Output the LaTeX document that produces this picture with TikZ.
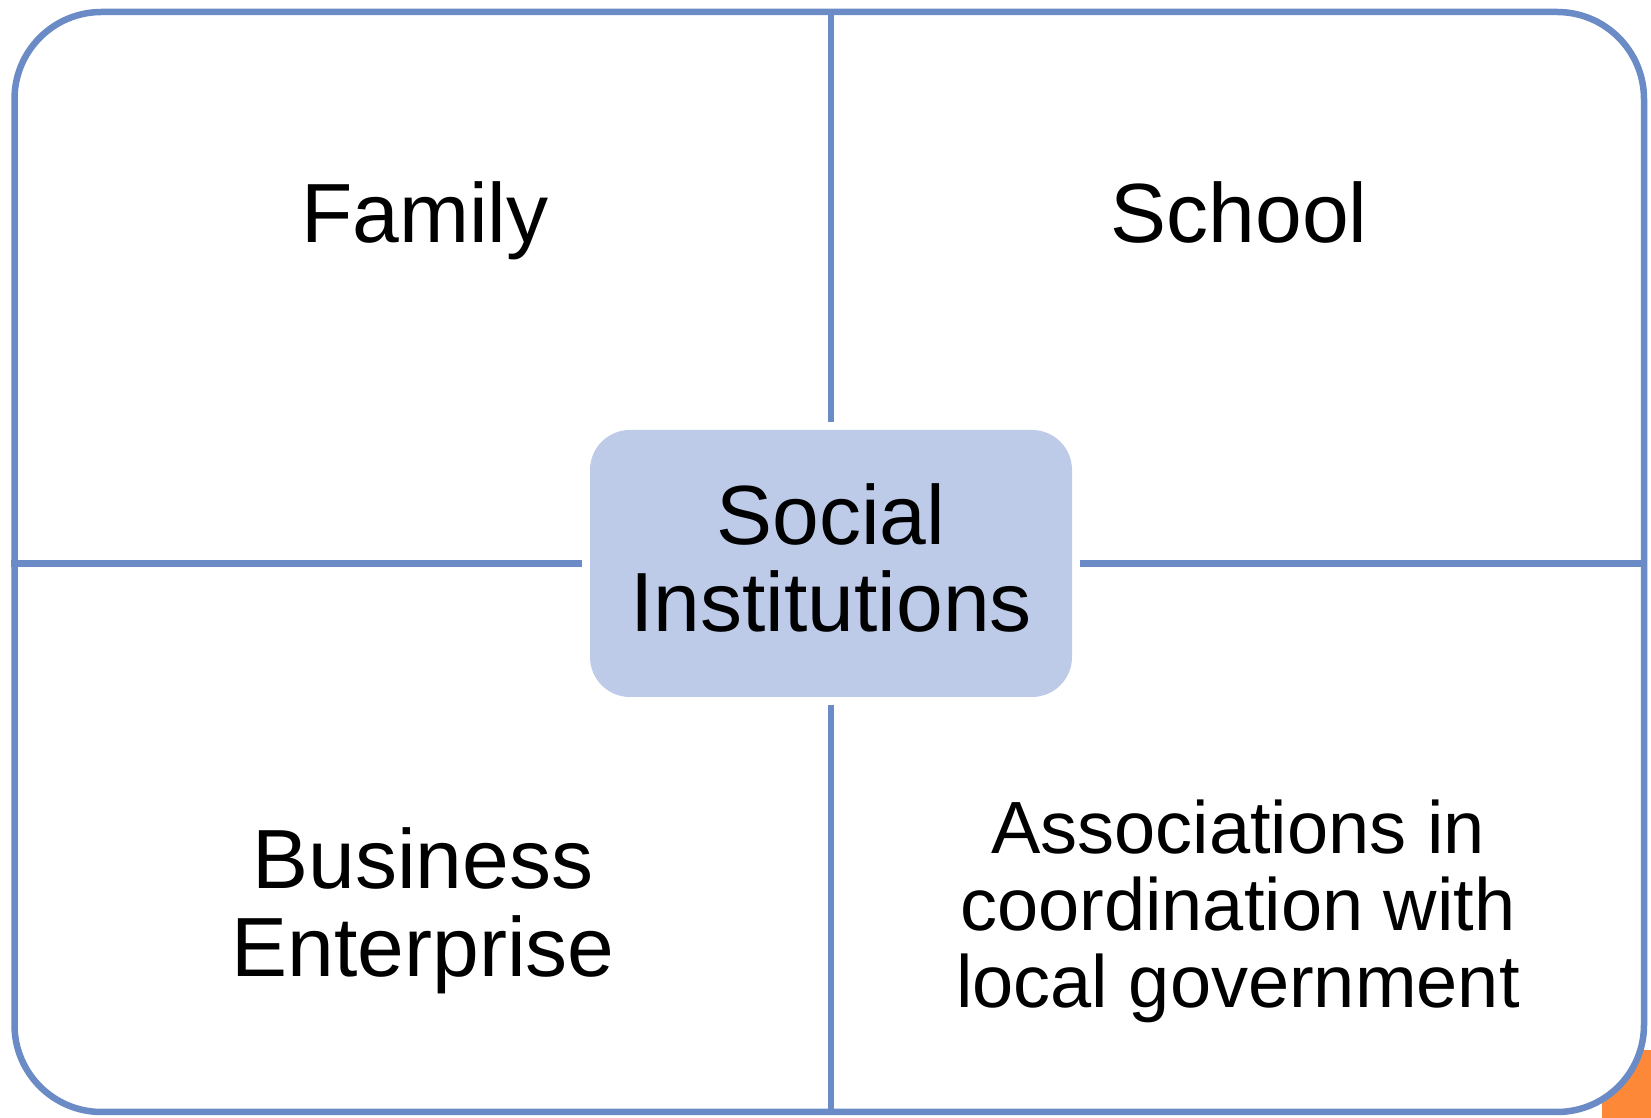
\documentclass[tikz,border=0pt]{standalone}
\usepackage{fontspec}
\setmainfont{Liberation Sans}
\usetikzlibrary{positioning,backgrounds}

\definecolor{frameblue}{RGB}{106,139,197}
\definecolor{hubblue}{RGB}{189,203,233}
\definecolor{cornerorange}{RGB}{253,137,56}

\begin{document}
\begin{tikzpicture}[
    x=0.5pt, y=0.5pt,
    frame/.style={rectangle, draw=frameblue, line width=3.25pt, fill=white, minimum width=814.75pt, minimum height=550pt, rounded corners=43.5pt, inner sep=0pt},
    hub/.style={rectangle, fill=hubblue, minimum width=241pt, minimum height=133.5pt, rounded corners=20pt, inner sep=0pt, text depth=6pt, align=center, font=\fontsize{42}{43.5}\selectfont},
    quadtext/.style={anchor=base, align=center, inner sep=0pt, font=\fontsize{42}{44}\selectfont},
    divider/.style={draw=frameblue, line width=3.25pt, shorten <=4pt}
]

% Page and the orange corner behind the frame
\useasboundingbox (0,0) rectangle (1651,1118);
\fill[white] (0,0) rectangle (1651,1118);
\fill[cornerorange] (1602,0) rectangle (1651,68);

% Frame and centre
\node[frame] (frame) at (829.25,556) {};
\node[hub] (hub) at (831,554.5) {Social\\Institutions};

% Quadrants (base = last line)
\node[quadtext] (family) at (425,875) {Family};
\node[quadtext] (school) at (1239,875) {School};
\node[quadtext] (business) at (423,141) {Business\\Enterprise};
\node[quadtext, font=\fontsize{37}{38.5}\selectfont] (assoc) at (1238,110) {Associations in\\coordination with\\local government};

% Dividers
\draw[divider] (hub.north) -- (hub.north |- frame.north);
\draw[divider] (hub.south) -- (hub.south |- frame.south);
\draw[divider] (hub.west) -- (hub.west -| frame.west);
\draw[divider] (hub.east) -- (hub.east -| frame.east);

\end{tikzpicture}
\end{document}
